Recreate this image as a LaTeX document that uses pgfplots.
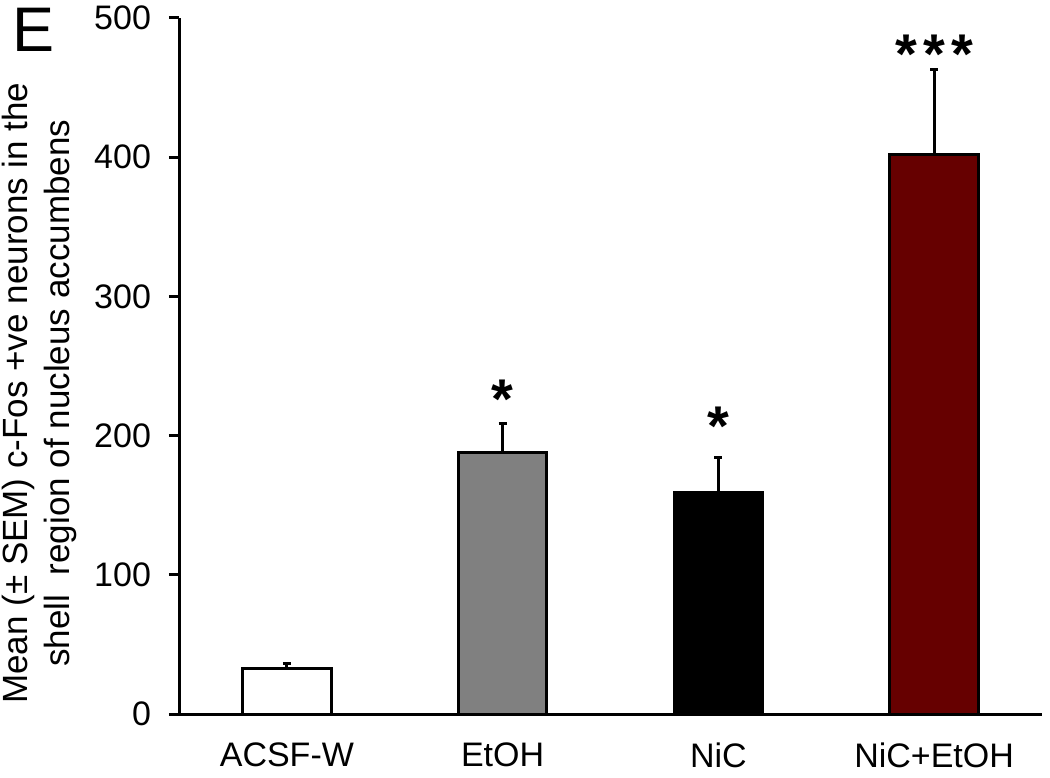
\documentclass[border=0pt]{standalone}
\usepackage{pgfplots}
\pgfplotsset{compat=1.18}
\usepackage{fontspec}
\setmainfont{Liberation Sans}
\definecolor{darkred}{RGB}{102,0,0}
\definecolor{midgray}{RGB}{128,128,128}
\begin{document}
\begin{tikzpicture}
\begin{axis}[
  name=ax,
  scale only axis,
  width=431.5pt, height=348pt,
  xmin=-0.5, xmax=3.5,
  ymin=0, ymax=500,
  axis x line=bottom, axis y line=left,
  axis line style={-, line width=1.5pt},
  ytick={0,100,200,300,400,500},
  xtick={0,1,2,3},
  xticklabels={ACSF-W,EtOH,NiC,NiC+EtOH},
  x tick style={draw=none},
  y tick style={line width=1.5pt, black},
  tick align=outside,
  major tick length=5pt,
  /pgf/number format/assume math mode=true,
  tick label style={font=\fontsize{17}{20}\selectfont},
  xticklabel style={yshift=-6pt},
  yticklabel style={xshift=-5.5pt},
  ylabel={Mean (± SEM) c-Fos +ve neurons in the\\shell\ \ region of nucleus accumbens},
  ylabel style={font=\fontsize{17.5}{21}\selectfont, align=center, at={(axis description cs:-0.162,0.461)}, anchor=center},
  clip=false,
  ybar, bar width=0.41, bar shift=0pt,
  error bars/y dir=plus, error bars/y explicit,
  error bars/error mark options={rotate=90, mark size=2pt, line width=1.5pt},
  error bars/error bar style={line width=1.5pt},
]
\addplot[fill=white, draw=black, line width=1.5pt] coordinates {(0,33) +- (0,3)};
\addplot[fill=midgray, draw=black, line width=1.5pt] coordinates {(1,188) +- (0,21)};
\addplot[fill=black, draw=black, line width=1.5pt] coordinates {(2,159) +- (0,25)};
\addplot[fill=darkred, draw=black, line width=1.5pt] coordinates {(3,402) +- (0,61)};
\node[font=\fontsize{28}{30}\selectfont\bfseries] at (axis cs:1,226) {*};
\node[font=\fontsize{28}{30}\selectfont\bfseries] at (axis cs:2,207) {*};
\node[font=\fontsize{28}{30}\selectfont\bfseries] at (axis cs:3,474) {*\hspace{3.2pt}*\hspace{3.2pt}*};
\end{axis}
\node[font=\fontsize{31.5}{33}\selectfont, anchor=north west, inner sep=0pt] at ([xshift=-83.5pt, yshift=5pt]ax.north west) {E};
\pgfresetboundingbox
\path ([xshift=-89.5pt, yshift=-31.5pt]ax.south west) rectangle ([xshift=4pt, yshift=9pt]ax.north east);
\end{tikzpicture}
\end{document}
